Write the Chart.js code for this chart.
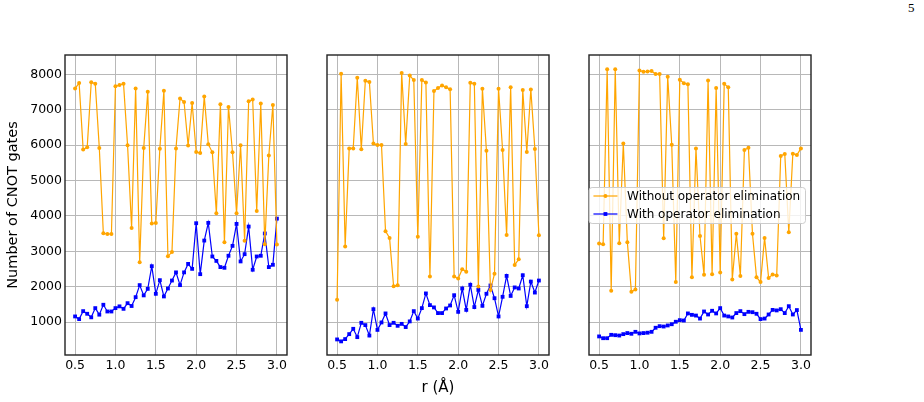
<!DOCTYPE html>
<html>
<head>
<meta charset="utf-8">
<script src="https://cdn.jsdelivr.net/npm/chart.js@4.4.1/dist/chart.umd.min.js"></script>
<style>
  body { margin: 0; background: #fff; width: 924px; height: 402px; position: relative; overflow: hidden; }
  canvas { position: absolute; top: 0; }
  #pageNum { position: absolute; left: 908px; top: 0; font-family: "Liberation Serif", serif; font-size: 13px; }
</style>
</head>
<body>
<div id="pageNum">5</div>
<canvas id="panel1" width="300" height="402" style="left:0px"></canvas>
<canvas id="panel2" width="260" height="402" style="left:300px"></canvas>
<canvas id="panel3" width="270" height="402" style="left:560px"></canvas>
<script>
const rValues = [0.5, 0.55, 0.6, 0.65, 0.7, 0.75, 0.8, 0.85, 0.9, 0.95, 1.0, 1.05, 1.1, 1.15, 1.2, 1.25, 1.3, 1.35, 1.4, 1.45,
  1.5, 1.55, 1.6, 1.65, 1.7, 1.75, 1.8, 1.85, 1.9, 1.95, 2.0, 2.05, 2.1, 2.15, 2.2, 2.25, 2.3, 2.35, 2.4, 2.45,
  2.5, 2.55, 2.6, 2.65, 2.7, 2.75, 2.8, 2.85, 2.9, 2.95, 3.0];

const xTicks = [0.5, 1.0, 1.5, 2.0, 2.5, 3.0];
const yTicks = [1000, 2000, 3000, 4000, 5000, 6000, 7000, 8000];

const seriesLabels = ["Without operator elimination", "With operator elimination"];

// panel 1
const p1Without = [7600, 7760, 5880, 5940, 7780, 7740, 5920, 3510, 3490, 3490, 7670, 7700, 7740, 6000, 3660, 7600, 2690, 5920, 7510, 3790,
  3800, 5900, 7540, 2860, 2980, 5910, 7320, 7220, 5990, 7190, 5810, 5780, 7380, 6030, 5800, 4080, 7160, 3260, 7080, 5800,
  4080, 6000, 3300, 7240, 7290, 4140, 7180, 3200, 5710, 7140, 3190];
const p1With = [1160, 1085, 1310, 1235, 1135, 1395, 1210, 1490, 1300, 1300, 1395, 1445, 1375, 1535, 1455, 1705, 2045, 1755, 1940, 2580,
  1800, 2185, 1725, 1950, 2175, 2405, 2045, 2405, 2645, 2505, 3795, 2355, 3305, 3805, 2855, 2730, 2555, 2535, 2875, 3155,
  3775, 2715, 2920, 3700, 2480, 2855, 2875, 3505, 2555, 2620, 3925];

// panel 2
const p2Without = [1630, 8020, 3135, 5910, 5910, 7905, 5885, 7820, 7785, 6045, 6005, 6005, 3570, 3380, 2015, 2045, 8040, 6035, 7970, 7840,
  3410, 7840, 7775, 2290, 7530, 7615, 7690, 7635, 7585, 2290, 2230, 2495, 2420, 7765, 7735, 2005, 7595, 5845, 1910, 2365,
  7595, 5865, 3465, 7640, 2615, 2775, 7560, 5810, 7575, 5890, 3455];
const p2With = [510, 455, 520, 660, 810, 575, 980, 915, 620, 1365, 780, 990, 1245, 915, 980, 895, 950, 860, 1020, 1310,
  1100, 1395, 1810, 1480, 1415, 1255, 1255, 1385, 1470, 1760, 1290, 1950, 1345, 2055, 1425, 1910, 1460, 1800, 2035, 1675,
  1160, 1715, 2305, 1740, 1980, 1950, 2325, 1450, 2145, 1835, 2175];

// panel 3
const p3Without = [3220, 3200, 8150, 1885, 8150, 3230, 6050, 3260, 1855, 1920, 8115, 8075, 8085, 8095, 8010, 8010, 3370, 7935, 6015, 2130,
  7850, 7755, 7725, 2270, 5910, 3435, 2335, 7830, 2355, 7615, 2400, 7735, 7635, 2205, 3495, 2305, 5865, 5930, 3495, 2270,
  2130, 3380, 2250, 2345, 2315, 5695, 5750, 3540, 5760, 5725, 5910];
const p3With = [595, 545, 545, 640, 630, 620, 660, 690, 670, 725, 680, 690, 700, 725, 840, 885, 875, 905, 940, 1010,
  1055, 1045, 1245, 1205, 1185, 1100, 1300, 1215, 1320, 1245, 1395, 1185, 1160, 1130, 1255, 1310, 1225, 1290, 1280, 1235,
  1085, 1100, 1215, 1345, 1330, 1365, 1255, 1450, 1215, 1340, 780];

const ORANGE = "#FFA500";
const BLUE = "#0000FF";

Chart.defaults.font.family = "'DejaVu Sans', sans-serif";
Chart.defaults.color = "#000";

// matplotlib style box around each axes
const frame = {
  id: "frame",
  afterDatasetsDraw(chart) {
    const a = chart.chartArea;
    const ctx = chart.ctx;
    ctx.save();
    ctx.strokeStyle = "#222";
    ctx.lineWidth = 1.4;
    ctx.strokeRect(a.left, a.top, a.right - a.left, a.bottom - a.top);
    ctx.restore();
  }
};

// legend drawn inside the axes, "center right"
const boxLegend = {
  id: "boxLegend",
  afterDraw(chart) {
    const ctx = chart.ctx;
    const a = chart.chartArea;
    const fs = 12;
    ctx.save();
    ctx.font = fs + "px 'DejaVu Sans'";
    let textW = 0;
    chart.data.datasets.forEach(ds => { textW = Math.max(textW, ctx.measureText(ds.label).width); });
    const w = 4.8 + 24 + 9.6 + textW + 4.8;
    const h = 36;
    const x0 = a.right - 6 - w;
    const y0 = (a.top + a.bottom) / 2 - h / 2;
    ctx.beginPath();
    ctx.roundRect(x0 + 0.5, y0 + 0.5, w, h, 3);
    ctx.fillStyle = "rgba(255,255,255,0.8)";
    ctx.fill();
    ctx.strokeStyle = "#cccccc";
    ctx.lineWidth = 1;
    ctx.stroke();
    chart.data.datasets.forEach((ds, i) => {
      const y = y0 + 9 + i * 18;
      ctx.strokeStyle = ds.borderColor;
      ctx.lineWidth = ds.borderWidth;
      ctx.beginPath();
      ctx.moveTo(x0 + 4.8, y);
      ctx.lineTo(x0 + 28.8, y);
      ctx.stroke();
      ctx.fillStyle = ds.pointBackgroundColor;
      const mx = x0 + 16.8;
      if (ds.pointStyle === "rect") {
        ctx.fillRect(mx - 1.9, y - 1.9, 3.8, 3.8);
      } else {
        ctx.beginPath();
        ctx.arc(mx, y, ds.pointRadius, 0, Math.PI * 2);
        ctx.fill();
      }
      ctx.fillStyle = "#000";
      ctx.textBaseline = "middle";
      ctx.fillText(ds.label, x0 + 38.4, y + 0.5);
    });
    ctx.restore();
  }
};

function makePanel(id, without, withElim, opt) {
  const ctx = document.getElementById(id).getContext("2d");
  const plugins = [frame];
  if (opt.legend) plugins.push(boxLegend);
  return new Chart(ctx, {
    type: "line",
    data: {
      datasets: [{
        label: seriesLabels[0],
        data: rValues.map((r, i) => ({ x: r, y: without[i] })),
        borderColor: ORANGE,
        backgroundColor: ORANGE,
        pointBackgroundColor: ORANGE,
        borderWidth: 1.2,
        pointRadius: 2,
        pointBorderWidth: 0,
        pointStyle: "circle"
      }, {
        label: seriesLabels[1],
        data: rValues.map((r, i) => ({ x: r, y: withElim[i] })),
        borderColor: BLUE,
        backgroundColor: BLUE,
        pointBackgroundColor: BLUE,
        borderWidth: 1.2,
        pointRadius: 2.7,
        pointBorderWidth: 0,
        pointStyle: "rect"
      }]
    },
    options: {
      responsive: false,
      animation: false,
      devicePixelRatio: 1,
      clip: false,
      layout: { padding: { top: 55, right: opt.padRight, left: 0, bottom: 0 } },
      plugins: { legend: { display: false }, tooltip: { enabled: false } },
      scales: {
        x: {
          type: "linear",
          min: 0.375,
          max: 3.125,
          afterBuildTicks: s => { s.ticks = xTicks.map(v => ({ value: v })); },
          afterFit: s => { s.height = 47; },
          grid: { color: "#b8b8b8", lineWidth: 1, drawTicks: false },
          border: { display: false },
          ticks: { font: { size: 12.5 }, padding: 3, maxRotation: 0, callback: v => v.toFixed(1) },
          title: {
            display: opt.xTitle,
            text: "r (Å)",
            font: { size: 15 },
            padding: { top: 0, bottom: 5 }
          }
        },
        y: {
          type: "linear",
          min: 70,
          max: 8550,
          afterBuildTicks: s => { s.ticks = yTicks.map(v => ({ value: v })); },
          afterFit: s => { s.width = opt.yWidth; },
          grid: { color: "#b8b8b8", lineWidth: 1, drawTicks: false },
          border: { display: false },
          ticks: { display: opt.yLabels, font: { size: 12.5 }, padding: 3, callback: v => String(v) },
          title: {
            display: opt.yLabels,
            text: "Number of CNOT gates",
            font: { size: 14.5 },
            padding: { top: 5, bottom: 0 }
          }
        }
      }
    },
    plugins: plugins
  });
}

makePanel("panel1", p1Without, p1With, { yWidth: 65, padRight: 13, yLabels: true, xTitle: false, legend: false });
makePanel("panel2", p2Without, p2With, { yWidth: 27, padRight: 11, yLabels: false, xTitle: true, legend: false });
makePanel("panel3", p3Without, p3With, { yWidth: 29, padRight: 19, yLabels: false, xTitle: false, legend: true });
</script>
</body>
</html>
